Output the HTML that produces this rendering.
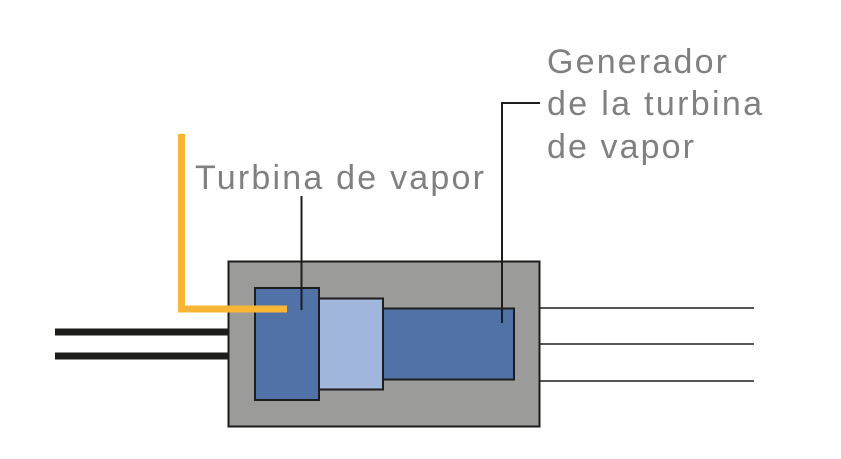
<!DOCTYPE html>
<html><head><style>body{margin:0;background:#fff}</style></head><body>
<svg width="841" height="459" xmlns="http://www.w3.org/2000/svg" style="display:block">
<g font-family="Liberation Sans, sans-serif" font-size="34" fill="#808080" lengthAdjust="spacing">
<text x="195" y="189" textLength="289">Turbina de vapor</text>
<text x="547" y="73" textLength="180">Generador</text>
<text x="547" y="115" textLength="215">de la turbina</text>
<text x="547" y="158" textLength="147">de vapor</text>
</g>
<line x1="55" y1="332" x2="229" y2="332" stroke="#1d1d1b" stroke-width="7"/>
<line x1="55" y1="356" x2="229" y2="356" stroke="#1d1d1b" stroke-width="7"/>
<g stroke="#1d1d1b" stroke-width="1.5">
<line x1="540" y1="308" x2="754" y2="308"/>
<line x1="540" y1="344" x2="754" y2="344"/>
<line x1="540" y1="381" x2="754" y2="381"/>
</g>
<rect x="228.5" y="261.5" width="311" height="165" fill="#9b9b9a" stroke="#1d1d1b" stroke-width="2"/>
<rect x="255" y="288" width="64" height="112" fill="#5072a7" stroke="#1d1d1b" stroke-width="2"/>
<rect x="319" y="298.5" width="64" height="91" fill="#a0b6dc" stroke="#1d1d1b" stroke-width="2"/>
<rect x="383" y="308.5" width="131" height="71" fill="#5072a7" stroke="#1d1d1b" stroke-width="2"/>
<polyline points="181.5,134 181.5,309 287,309" fill="none" stroke="#f8b634" stroke-width="7"/>
<line x1="301.5" y1="196" x2="301.5" y2="310" stroke="#1d1d1b" stroke-width="2"/>
<polyline points="540,103 502,103 502,323" fill="none" stroke="#1d1d1b" stroke-width="2"/>
</svg>
</body></html>
